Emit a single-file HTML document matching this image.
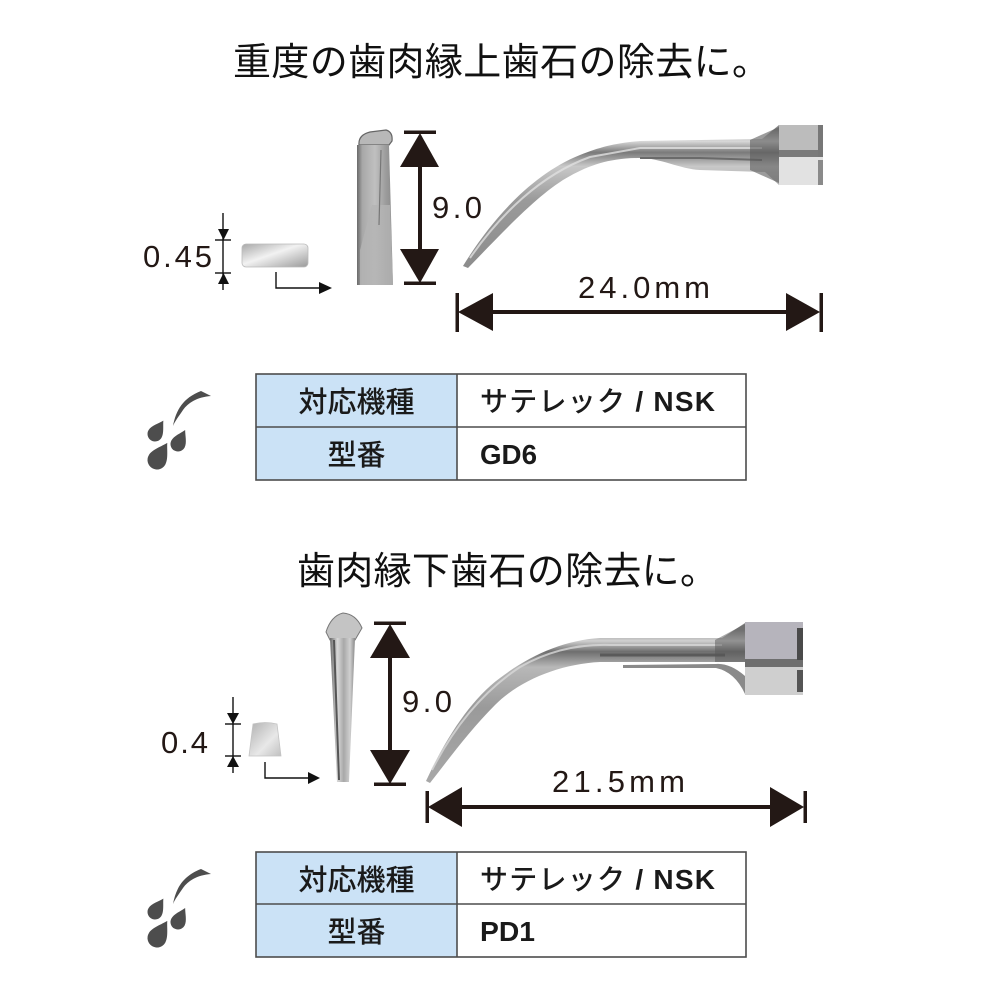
<!DOCTYPE html>
<html>
<head>
<meta charset="utf-8">
<style>
html,body{margin:0;padding:0;background:#fff;}
svg{display:block;}
.t{font-family:"Liberation Sans","Noto Sans CJK JP",sans-serif;}
</style>
</head>
<body>
<svg width="1000" height="1000" viewBox="0 0 1000 1000" xmlns="http://www.w3.org/2000/svg">
<defs>
  <linearGradient id="gShaft1" x1="0" y1="130" x2="0" y2="270" gradientUnits="userSpaceOnUse">
    <stop offset="0" stop-color="#8a8a8a"/>
    <stop offset="0.08" stop-color="#d8d8d8"/>
    <stop offset="0.16" stop-color="#7a7a7a"/>
    <stop offset="0.26" stop-color="#c8c8c8"/>
    <stop offset="0.5" stop-color="#9a9a9a"/>
    <stop offset="1" stop-color="#8c8c8c"/>
  </linearGradient>
  <linearGradient id="gShaft2" x1="0" y1="630" x2="0" y2="785" gradientUnits="userSpaceOnUse">
    <stop offset="0" stop-color="#8a8a8a"/>
    <stop offset="0.07" stop-color="#d0d0d0"/>
    <stop offset="0.14" stop-color="#6e6e6e"/>
    <stop offset="0.24" stop-color="#b8b8b8"/>
    <stop offset="0.5" stop-color="#9a9a9a"/>
    <stop offset="1" stop-color="#a8a8a8"/>
  </linearGradient>
  <linearGradient id="gSide" x1="0" y1="0" x2="1" y2="0">
    <stop offset="0" stop-color="#6a6a6a"/>
    <stop offset="0.15" stop-color="#a8a8a8"/>
    <stop offset="0.5" stop-color="#c0c0c0"/>
    <stop offset="0.8" stop-color="#9c9c9c"/>
    <stop offset="1" stop-color="#8a8a8a"/>
  </linearGradient>
  <linearGradient id="gSide2" x1="0" y1="0" x2="1" y2="0">
    <stop offset="0" stop-color="#6a6a6a"/>
    <stop offset="0.3" stop-color="#d8d8d8"/>
    <stop offset="0.55" stop-color="#a8a8a8"/>
    <stop offset="0.8" stop-color="#d0d0d0"/>
    <stop offset="1" stop-color="#888"/>
  </linearGradient>
  <linearGradient id="gCross" x1="0" y1="0" x2="1" y2="1">
    <stop offset="0" stop-color="#a8a8a8"/>
    <stop offset="0.45" stop-color="#f2f2f2"/>
    <stop offset="1" stop-color="#9a9a9a"/>
  </linearGradient>
  <linearGradient id="gCross2" x1="0" y1="0" x2="1" y2="1">
    <stop offset="0" stop-color="#b0b0b0"/>
    <stop offset="0.6" stop-color="#e8e8e8"/>
    <stop offset="1" stop-color="#c0c0c0"/>
  </linearGradient>
  <path id="drop" d="M0,-2.1 C0.3,-1.5 1,-0.7 1,0 A1,1 0 0 1 -1,0 C-1,-0.7 -0.3,-1.5 0,-2.1Z"/>
</defs>

<!-- ================= TITLE 1 ================= -->
<text class="t" x="233" y="75" font-size="38" fill="#111" textLength="537" lengthAdjust="spacing">重度の歯肉縁上歯石の除去に。</text>

<!-- cross-section dims top -->
<g stroke="#111" stroke-width="1.4" fill="none">
  <line x1="223" y1="213" x2="223" y2="290"/>
  <line x1="215" y1="240" x2="231" y2="240"/>
  <line x1="215" y1="273" x2="231" y2="273"/>
</g>
<polygon points="218,229 229,229 223.5,240" fill="#111"/>
<polygon points="218,284 229,284 223.5,273" fill="#111"/>
<text class="t" x="143" y="267" font-size="31" fill="#231815" textLength="69" lengthAdjust="spacing">0.45</text>
<rect x="242" y="244" width="66" height="23" rx="4" fill="url(#gCross)" stroke="#bbb" stroke-width="0.8"/>
<!-- L arrow top -->
<polyline points="276,272 276,288 320,288" fill="none" stroke="#111" stroke-width="1.4"/>
<polygon points="319,282 332,288 319,294" fill="#111"/>

<!-- side view tip top -->
<path d="M359 145 Q358 135 370 132 L386 130 Q393 132 392 141 L389 145 Z" fill="#b8b8b8" stroke="#666" stroke-width="1.2"/>
<polygon points="357,145 389,145 393,285 357,285" fill="url(#gSide)"/>
<polygon points="372,205 390,205 393,285 360,285 360,250" fill="#b4b4b4" opacity="0.8"/>
<line x1="381" y1="150" x2="379" y2="225" stroke="#777" stroke-width="1.2"/>

<!-- vertical dim top -->
<g fill="#231815">
  <rect x="404" y="130.5" width="32" height="3.5"/>
  <rect x="404" y="281.5" width="32" height="3.5"/>
  <rect x="418" y="160" width="4" height="95"/>
  <polygon points="420,133 439,167 400,167"/>
  <polygon points="420,283 439,249 400,249"/>
</g>
<text class="t" x="432" y="218" font-size="31" fill="#231815" textLength="50" lengthAdjust="spacing">9.0</text>

<!-- curved tip top (GD6) -->
<path d="M463 266 C490 222, 530 175, 580 155 C600 147, 615 143, 640 141 L762 139 L779 125 L779 185 L765 172 L700 170 C680 169, 660 158, 640 158 C610 158, 590 165, 570 176 C540 192, 505 230, 468 268 Z" fill="url(#gShaft1)"/>
<path d="M470 258 C500 215, 540 175, 590 157 L640 148 L762 148" fill="none" stroke="#e0e0e0" stroke-width="2" opacity="0.8"/>
<path d="M640 158 L700 158 L762 160" fill="none" stroke="#6a6a6a" stroke-width="2"/>
<path d="M750 140 L779 127 L779 183 L750 170 Z" fill="#5a5a5a" opacity="0.6"/>
<!-- hub top -->
<rect x="779" y="125" width="44" height="60" fill="#c8c8c8"/>
<rect x="779" y="125" width="44" height="25" fill="#bcbcbc"/>
<rect x="779" y="150" width="44" height="7" fill="#7a7a7a"/>
<rect x="779" y="157" width="44" height="28" fill="#e2e2e2"/>
<rect x="818" y="125" width="5" height="32" fill="#777"/>
<rect x="818" y="160" width="5" height="25" fill="#8a8a8a"/>

<!-- horizontal dim top -->
<g fill="#231815">
  <rect x="455.5" y="293" width="3.5" height="39"/>
  <rect x="819.5" y="293" width="3.5" height="39"/>
  <rect x="485" y="310" width="310" height="4"/>
  <polygon points="458,312 493,293 493,331"/>
  <polygon points="820,312 786,293 786,331"/>
</g>
<text class="t" x="578" y="298" font-size="31" fill="#231815" textLength="132" lengthAdjust="spacing">24.0mm</text>

<!-- icon 1 -->
<g fill="#4d4d4d">
  <path d="M173 426 C176 410, 183 398, 201 391 L211 396 C197 397, 188 403, 183 410 C179 416, 175 421, 173 426 Z"/>
  <use href="#drop" transform="translate(155,434) rotate(32) scale(7.5)"/>
  <use href="#drop" transform="translate(178,444) rotate(27) scale(7.5)"/>
  <use href="#drop" transform="translate(157,460) rotate(31) scale(9.5)"/>
</g>

<!-- table 1 -->
<rect x="256" y="374" width="201" height="106" fill="#cbe2f6"/>
<rect x="256" y="374" width="490" height="106" fill="none" stroke="#4d4d4d" stroke-width="1.6"/>
<line x1="457" y1="374" x2="457" y2="480" stroke="#4d4d4d" stroke-width="1.6"/>
<line x1="256" y1="427" x2="746" y2="427" stroke="#4d4d4d" stroke-width="1.6"/>
<text class="t" x="356.5" y="412" font-size="29" font-weight="500" fill="#1a1a1a" text-anchor="middle">対応機種</text>
<text class="t" x="356.5" y="465" font-size="29" font-weight="500" fill="#1a1a1a" text-anchor="middle">型番</text>
<text class="t" x="480" y="411" font-size="28" font-weight="500" fill="#1a1a1a" textLength="235" lengthAdjust="spacing">サテレック<tspan font-weight="bold" font-size="28"> / NSK</tspan></text>
<text class="t" x="480" y="464" font-size="28" font-weight="bold" fill="#1a1a1a" textLength="57" lengthAdjust="spacingAndGlyphs">GD6</text>

<!-- ================= TITLE 2 ================= -->
<text class="t" x="297" y="584" font-size="38" fill="#111" textLength="421" lengthAdjust="spacing">歯肉縁下歯石の除去に。</text>

<!-- cross-section dims bottom -->
<g stroke="#111" stroke-width="1.4" fill="none">
  <line x1="233" y1="697" x2="233" y2="773"/>
  <line x1="225" y1="724" x2="241" y2="724"/>
  <line x1="225" y1="756" x2="241" y2="756"/>
</g>
<polygon points="227,713 239,713 233,724" fill="#111"/>
<polygon points="227,767 239,767 233,756" fill="#111"/>
<text class="t" x="161" y="753" font-size="31" fill="#231815" textLength="47" lengthAdjust="spacing">0.4</text>
<path d="M253 724 Q265 721 277 724 L281 756 L249 756 Z" fill="url(#gCross2)" stroke="#c4c4c4" stroke-width="0.8"/>
<!-- L arrow bottom -->
<polyline points="265,762 265,778 309,778" fill="none" stroke="#111" stroke-width="1.4"/>
<polygon points="308,772 320,778 308,784" fill="#111"/>

<!-- side view tip bottom -->
<path d="M326 632 Q331 616 343 613 Q356 614 362 628 L355 640 L330 640 Z" fill="#c4c4c4" stroke="#777" stroke-width="1"/>
<polygon points="330,638 355,638 349,782 337,782" fill="url(#gSide2)"/>
<line x1="334" y1="640" x2="339" y2="780" stroke="#555" stroke-width="2"/>

<!-- vertical dim bottom -->
<g fill="#231815">
  <rect x="374" y="621.5" width="32" height="3.5"/>
  <rect x="374" y="782.5" width="32" height="3.5"/>
  <rect x="388" y="650" width="4" height="110"/>
  <polygon points="390,624 410,658 370,658"/>
  <polygon points="390,784 410,750 370,750"/>
</g>
<text class="t" x="402" y="712" font-size="31" fill="#231815" textLength="50" lengthAdjust="spacing">9.0</text>

<!-- curved tip bottom (PD1) -->
<path d="M426 781 C445 740, 470 700, 500 678 C530 655, 565 640, 600 638 L722 638 L745 623 L745 662 L600 662 C560 664, 520 680, 495 705 C470 730, 448 760, 430 783 Z" fill="url(#gShaft2)"/>
<path d="M432 770 C455 725, 485 690, 520 667 C550 650, 580 644, 610 645 L722 645" fill="none" stroke="#d8d8d8" stroke-width="2" opacity="0.8"/>
<path d="M600 655 L725 655" fill="none" stroke="#5a5a5a" stroke-width="3"/>
<path d="M623 668 L716 668 Q735 672 745 694 L745 676 Q730 663 716 664 L623 665 Z" fill="#8a8a8a"/>
<path d="M715 640 L745 624 L745 662 L715 662 Z" fill="#555" opacity="0.5"/>
<!-- hub bottom -->
<rect x="745" y="622" width="58" height="73" fill="#c4c4c4"/>
<rect x="745" y="622" width="58" height="38" fill="#b6b4bc"/>
<rect x="745" y="659" width="58" height="8" fill="#6e6e6e"/>
<rect x="745" y="667" width="58" height="28" fill="#cfcfcf"/>
<rect x="797" y="628" width="6" height="32" fill="#4a4a4a"/>
<rect x="797" y="670" width="6" height="22" fill="#555"/>

<!-- horizontal dim bottom -->
<g fill="#231815">
  <rect x="425.5" y="791" width="3.5" height="32"/>
  <rect x="803.5" y="791" width="3.5" height="32"/>
  <rect x="455" y="805" width="320" height="4"/>
  <polygon points="428,807 462,787 462,827"/>
  <polygon points="804,807 770,787 770,827"/>
</g>
<text class="t" x="552" y="792" font-size="31" fill="#231815" textLength="133" lengthAdjust="spacing">21.5mm</text>

<!-- icon 2 -->
<g fill="#4d4d4d" transform="translate(0,478)">
  <path d="M173 426 C176 410, 183 398, 201 391 L211 396 C197 397, 188 403, 183 410 C179 416, 175 421, 173 426 Z"/>
  <use href="#drop" transform="translate(155,434) rotate(32) scale(7.5)"/>
  <use href="#drop" transform="translate(178,444) rotate(27) scale(7.5)"/>
  <use href="#drop" transform="translate(157,460) rotate(31) scale(9.5)"/>
</g>

<!-- table 2 -->
<rect x="256" y="852" width="201" height="105" fill="#cbe2f6"/>
<rect x="256" y="852" width="490" height="105" fill="none" stroke="#4d4d4d" stroke-width="1.6"/>
<line x1="457" y1="852" x2="457" y2="957" stroke="#4d4d4d" stroke-width="1.6"/>
<line x1="256" y1="904" x2="746" y2="904" stroke="#4d4d4d" stroke-width="1.6"/>
<text class="t" x="356.5" y="890" font-size="29" font-weight="500" fill="#1a1a1a" text-anchor="middle">対応機種</text>
<text class="t" x="356.5" y="942" font-size="29" font-weight="500" fill="#1a1a1a" text-anchor="middle">型番</text>
<text class="t" x="480" y="889" font-size="28" font-weight="500" fill="#1a1a1a" textLength="235" lengthAdjust="spacing">サテレック<tspan font-weight="bold" font-size="28"> / NSK</tspan></text>
<text class="t" x="480" y="941" font-size="28" font-weight="bold" fill="#1a1a1a" textLength="55" lengthAdjust="spacingAndGlyphs">PD1</text>
</svg>
</body>
</html>
